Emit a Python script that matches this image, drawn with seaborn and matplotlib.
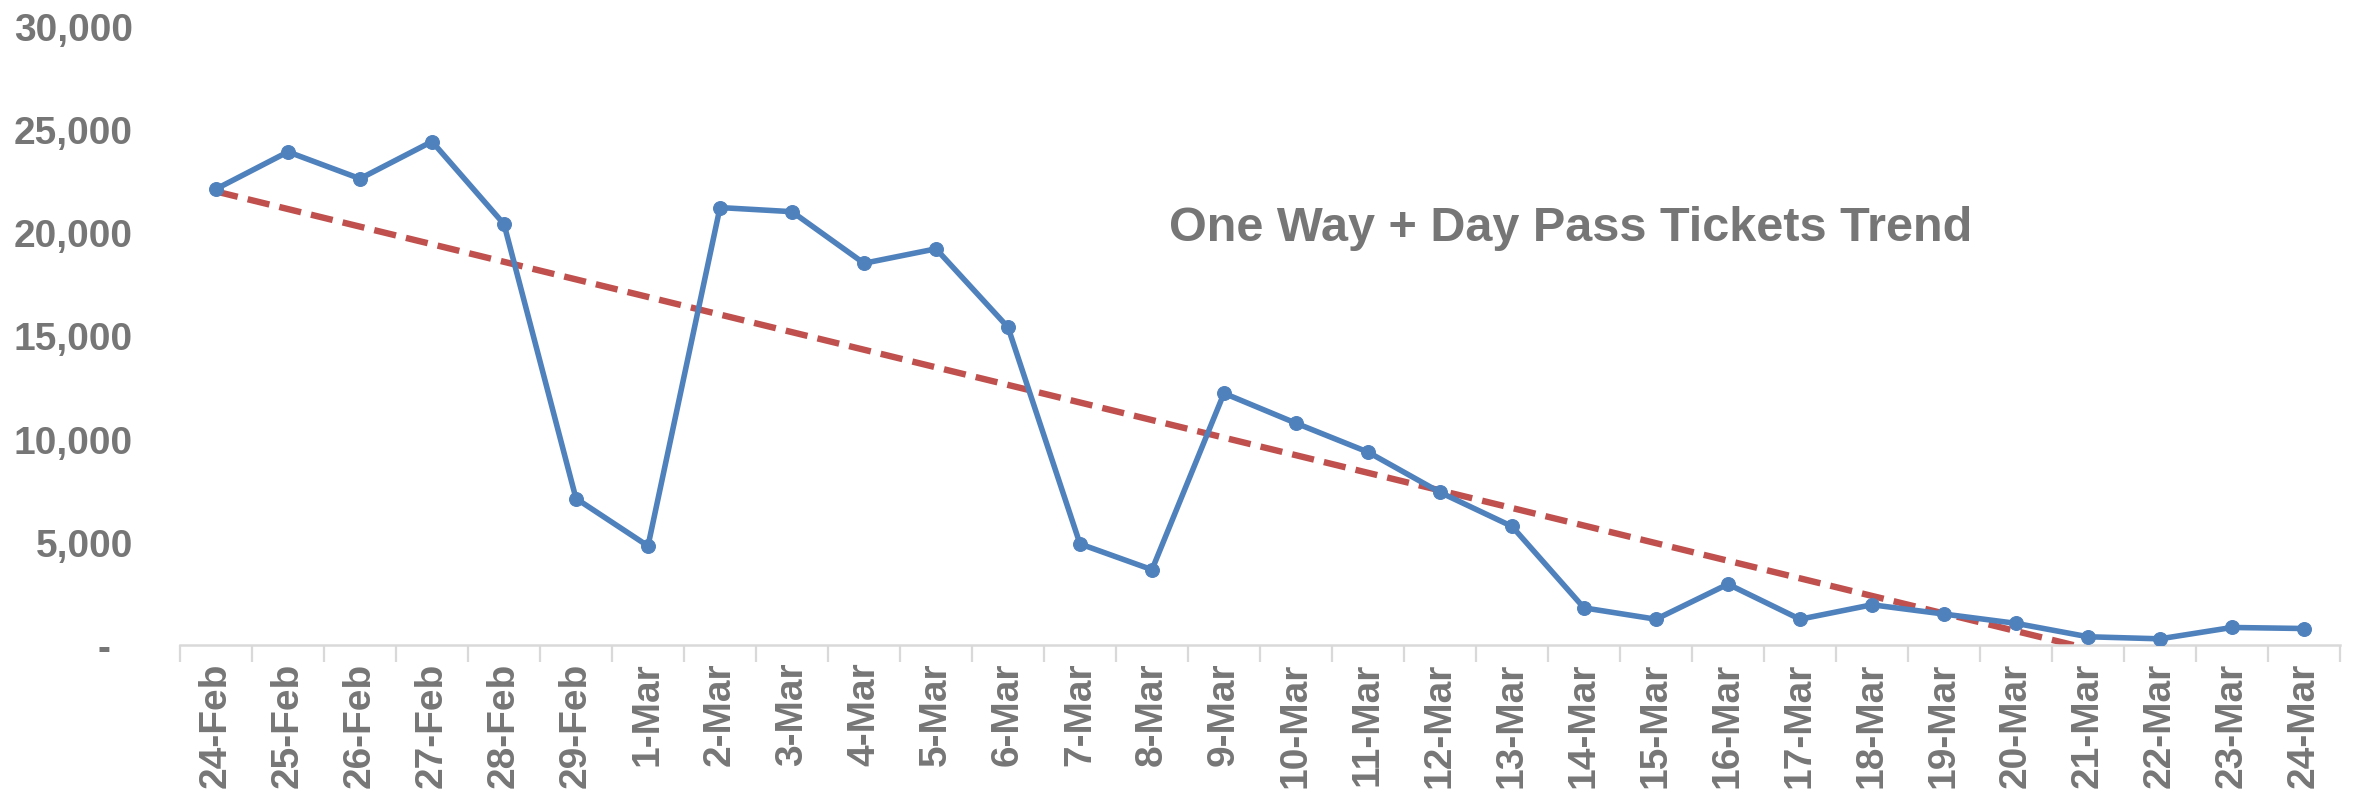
"""One Way + Day Pass tickets per day with a linear trend line."""

import matplotlib
matplotlib.use("Agg")
import matplotlib.pyplot as plt
import numpy as np
import pandas as pd
import seaborn as sns
from matplotlib.ticker import FixedLocator, FuncFormatter

DAYS = ["24-Feb", "25-Feb", "26-Feb", "27-Feb", "28-Feb", "29-Feb"] + [
    f"{d}-Mar" for d in range(1, 25)
]
TICKETS = [
    22100, 23900, 22600, 24400, 20400, 7100, 4800, 21200, 21000, 18500,
    19200, 15400, 4900, 3650, 12200, 10750, 9350, 7400, 5750, 1800,
    1250, 2950, 1250, 1950, 1500, 1050, 400, 300, 850, 800,
]
Y_TICKS = [0, 5000, 10000, 15000, 20000, 25000, 30000]
TITLE = "One Way + Day Pass Tickets Trend"

GREY = "#767676"
BLUE = "#4F81BD"
RED = "#C0504D"


def fmt_count(v, _pos):
    return "-  " if v == 0 else f"{v:,.0f}"


def main() -> None:
    sns.set_style("white")
    plt.rcParams["font.family"] = ["Liberation Sans", "DejaVu Sans"]
    plt.rcParams["font.weight"] = "bold"

    df = pd.DataFrame({"day": DAYS, "tickets": TICKETS, "idx": np.arange(len(DAYS))})

    fig = plt.figure(figsize=(23.56, 8.03), dpi=100)
    ax = fig.add_axes([0.0764, 0.1955, 0.9168, 0.7709])

    sns.regplot(
        data=df, x="idx", y="tickets", ax=ax, scatter=False, ci=None,
        line_kws=dict(color=RED, lw=4.6, ls=(0, (3.5, 1.6)), zorder=2),
    )
    sns.lineplot(
        data=df, x="idx", y="tickets", ax=ax, sort=False, color=BLUE,
        lw=4.0, marker="o", markersize=10, markeredgecolor=BLUE, zorder=3,
    )

    ax.set_xlim(-0.5, len(DAYS) - 0.5)
    ax.set_ylim(0, 30000)
    ax.set_xticks(np.arange(len(DAYS)))
    ax.set_xticklabels(DAYS, rotation=90, fontsize=28, color=GREY, fontweight="bold")
    ax.xaxis.set_minor_locator(FixedLocator(np.arange(len(DAYS) + 1) - 0.5))
    ax.tick_params(axis="x", which="major", length=0, pad=12)
    ax.tick_params(axis="x", which="minor", length=12, width=1.6, color="#D9D9D9", bottom=True)
    ax.set_yticks(Y_TICKS)
    ax.yaxis.set_major_formatter(FuncFormatter(fmt_count))
    ax.tick_params(axis="y", length=0, pad=34, labelsize=28, labelcolor=GREY)
    for lab in ax.get_yticklabels():
        lab.set_fontweight("bold")

    for side in ["left", "right", "top"]:
        ax.spines[side].set_visible(False)
    ax.spines["bottom"].set_color("#D9D9D9")
    ax.spines["bottom"].set_linewidth(1.8)
    ax.grid(False)
    ax.set_xlabel("")
    ax.set_ylabel("")

    ax.text(0.458, 0.675, TITLE, transform=ax.transAxes, ha="left", va="center",
            fontsize=35, fontweight="bold", color=GREY)

    fig.savefig("out.png", dpi=100)
    plt.close(fig)


if __name__ == "__main__":
    main()
